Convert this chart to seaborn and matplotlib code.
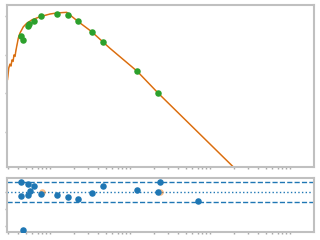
import numpy as np
import pandas as pd
import matplotlib
matplotlib.use("Agg")
import matplotlib.pyplot as plt
import seaborn as sns

# ---- data ----
# model / measured response curve (frequency, magnitude dB)
line_freq = [0.294, 0.305, 0.316, 0.325, 0.335, 0.345, 0.355, 0.365, 0.376, 0.402,
             0.422, 0.464, 0.511, 0.591, 0.750, 1.0, 1.213, 1.617, 1.778, 2.26,
             3.32, 4.64, 5.62, 12.3, 22.6, 195.5, 274.0]
line_db = [-16.6, -13.5, -12.5, -13.0, -11.4, -11.8, -10.1, -10.5, -8.8, -5.7,
           -4.4, -2.8, -1.9, -1.04, -0.18, 0.52, 0.78, 0.96, 0.26, -1.48,
           -4.08, -6.83, -8.39, -14.36, -20.08, -39.2, -42.3]

# measured points
pt_freq = [0.430, 0.464, 0.526, 0.551, 0.637, 0.778, 1.233, 1.664, 2.219, 3.38,
           4.64, 12.3, 22.6]
pt_db = [-5.12, -6.31, -2.60, -2.16, -1.38, 0.0, 0.52, 0.26, -1.38, -4.23,
         -6.83, -14.36, -20.08]

# residuals
res_freq = [0.430, 0.430, 0.460, 0.526, 0.535, 0.558, 0.637, 0.778, 1.233, 1.664,
            2.219, 3.38, 4.64, 12.3, 22.6, 23.9, 71.4]
res_val = [0.56, -0.25, -2.23, 0.47, -0.19, 0.06, 0.33, -0.12, -0.19, -0.31,
           -0.42, -0.08, 0.33, 0.10, 0.0, 0.56, -0.54]
out_freq = [0.801, 23.9]
out_val = [0.02, -0.02]
sigma = 0.58

top_yticks = [0, -10, -20, -30]
bot_yticks = [0, -1, -2]

# ---- plot ----
sns.set_theme(style="white")
fig = plt.figure(figsize=(3.2, 2.4), dpi=100)
ax1 = fig.add_axes([0.0228, 0.3054, 0.9575, 0.6725])
ax2 = fig.add_axes([0.0228, 0.0346, 0.9575, 0.225])

df_line = pd.DataFrame({"f": line_freq, "db": line_db})
df_pts = pd.DataFrame({"f": pt_freq, "db": pt_db})
df_res = pd.DataFrame({"f": res_freq, "r": res_val})
df_out = pd.DataFrame({"f": out_freq, "r": out_val})

sns.lineplot(data=df_line, x="f", y="db", ax=ax1, color="#ff7f0e", lw=1.1, sort=False)
sns.lineplot(data=df_line, x="f", y="db", ax=ax1, color="#8c5a2e", lw=0.5, sort=False,
             alpha=0.6)
sns.scatterplot(data=df_pts, x="f", y="db", ax=ax1, color="#2ca02c", s=22, linewidth=0,
                zorder=3)

ax2.axhline(sigma, color="#1f77b4", ls="--", lw=1)
ax2.axhline(-sigma, color="#1f77b4", ls="--", lw=1)
ax2.axhline(0, color="#1f77b4", ls=":", lw=1)
sns.scatterplot(data=df_out, x="f", y="r", ax=ax2, color="#ff7f0e", s=22, linewidth=0,
                alpha=0.5, zorder=3)
sns.scatterplot(data=df_res, x="f", y="r", ax=ax2, color="#1f77b4", s=22, linewidth=0,
                zorder=4)

for ax in (ax1, ax2):
    ax.set_xscale("log")
    ax.set_xlim(10 ** -0.534, 10 ** 3.296)
    ax.set_xlabel("")
    ax.set_ylabel("")
    for sp in ax.spines.values():
        sp.set_color("#c0c0c0")
        sp.set_linewidth(1.5)
    ax.tick_params(axis="both", which="both", direction="out", length=1.5, width=1,
                   color="#a8a8a8", labelbottom=False, labelleft=False)
    ax.tick_params(which="minor", bottom=True, length=1.5)
    ax.tick_params(which="major", bottom=True, left=True)
    ax.set_xticks([1, 10, 100, 1000])
    ax.set_xticklabels([])

ax1.set_ylim(-39.14, 2.78)
ax1.set_yticks(top_yticks)
ax1.set_yticklabels([])
ax2.set_ylim(-2.31, 0.83)
ax2.set_yticks(bot_yticks)
ax2.set_yticklabels([])

fig.savefig("out.png", dpi=100)
